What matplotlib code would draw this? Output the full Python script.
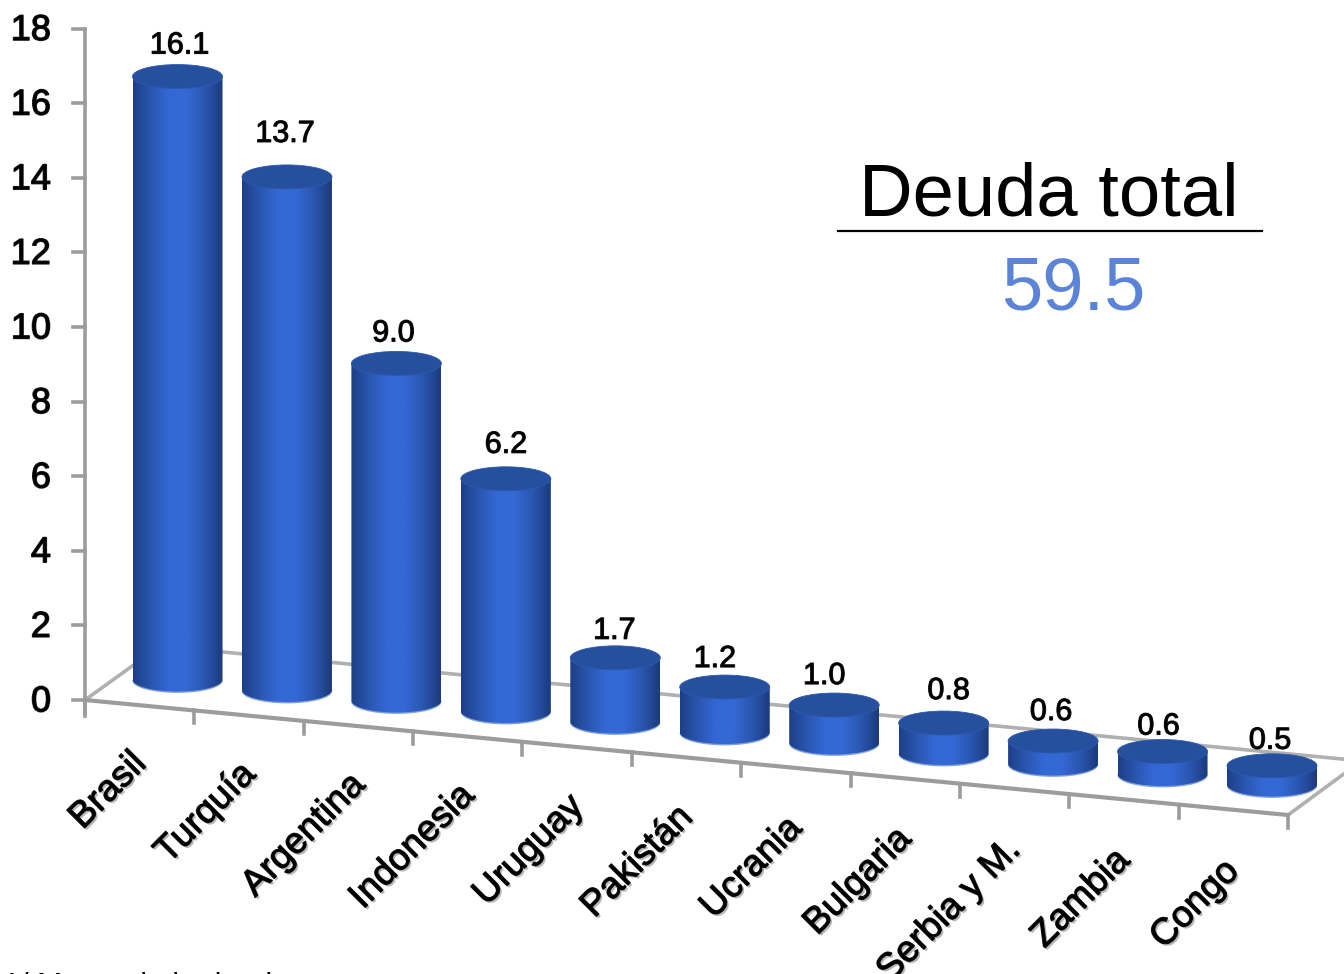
import numpy as np
import matplotlib
matplotlib.use("Agg")
import matplotlib.pyplot as plt
import matplotlib.patheffects as pe
from matplotlib.colors import LinearSegmentedColormap
from matplotlib.patches import Ellipse, PathPatch
from matplotlib.path import Path

paises = ["Brasil", "Turquía", "Argentina", "Indonesia", "Uruguay", "Pakistán",
          "Ucrania", "Bulgaria", "Serbia y M.", "Zambia", "Congo"]
deuda = [16.1, 13.7, 9.0, 6.2, 1.7, 1.2, 1.0, 0.8, 0.6, 0.6, 0.5]
y_ticks = [0, 2, 4, 6, 8, 10, 12, 14, 16, 18]

# hand placed value labels (px from the top of each cylinder)
lab_dx = [2, -2, -3, 0, -1, -10, -10, 5, -2, -4, -2]
lab_dy = [-31, -43, -30, -34, -27, -28, -29, -32, -29, -25, -25]

# ---- fake 3d scale, in pixels ----
PX_UNIT = 37.3
BAR_UNIT = 37.45
STEP_X = 109.45
STEP_Y = 10.5
RX, RY = 45, 12


def base_xy(i):
    return 177.5 + STEP_X * i, 679.5 + STEP_Y * i


def front_y(x):
    return 700 + 0.0956 * (x - 85)


def back_y(x):
    return 646 + 0.0956 * (x - 160)


plt.rcParams["font.family"] = ["Liberation Sans", "DejaVu Sans"]
fig = plt.figure(figsize=(13.44, 9.74), dpi=100)
ax = fig.add_axes([0, 0, 1, 1])
ax.set_xlim(0, 1344)
ax.set_ylim(974, 0)
ax.axis("off")

GREY = "#9c9c9c"
LW = 2.6
soft = [pe.withStroke(linewidth=1.0, foreground="#222222")]
soft2 = [pe.withStroke(linewidth=0.8, foreground="#222222")]
shadow = [pe.withSimplePatchShadow(offset=(1.5, -1.5), shadow_rgbFace="#888888", alpha=0.6),
          pe.withStroke(linewidth=0.9, foreground="#222222")]

# ---- floor and axes ----
ax.plot([85, 160, 1360], [700, 646, back_y(1360)], color="#b0b0b0", lw=LW, zorder=1)
ax.plot([1288, 1360], [front_y(1288), front_y(1288) - 53], color="#b0b0b0", lw=LW, zorder=1)
ax.plot([85, 1288], [700, front_y(1288)], color=GREY, lw=LW + 0.4, zorder=2)
ax.plot([85, 85], [29, 716], color=GREY, lw=LW, zorder=2)

for t in y_ticks:
    yy = 700 - t * PX_UNIT
    ax.plot([73, 85], [yy, yy], color=GREY, lw=LW, zorder=2)
    ax.text(51, yy + 2, str(t), ha="right", va="center", fontsize=26, color="black",
            path_effects=soft, zorder=5)

for k in range(len(paises) + 1):
    xx = 85 + 1203 / 11 * k
    yy = front_y(xx)
    ax.plot([xx, xx], [yy, yy + 13], color=GREY, lw=LW, zorder=2)

# ---- cylinders ----
cmap = LinearSegmentedColormap.from_list("cyl", ["#1d3f86", "#2a56b0", "#3468d6",
                                                 "#3468d4", "#2a56b0", "#1c3a7c"])
grad = np.linspace(0, 1, 256).reshape(1, -1)
for i, v in enumerate(deuda):
    cx, cy = base_xy(i)
    top = cy - v * BAR_UNIT
    # body = rectangle + lower half of the base ellipse
    th = np.linspace(0, np.pi, 60)
    verts = [(cx - RX, top), (cx + RX, top)] + \
        [(cx + RX * np.cos(a), cy + RY * np.sin(a)) for a in th] + [(cx - RX, top)]
    body = Path(verts)
    # light rim under the cylinder
    rim = Ellipse((cx, cy + 1.4), 2 * RX, 2 * RY, color="#7f9fe4", lw=0, zorder=3)
    ax.add_patch(rim)
    im = ax.imshow(grad, extent=[cx - RX, cx + RX, cy + RY + 1, top], cmap=cmap,
                   aspect="auto", zorder=3.5, interpolation="bilinear")
    clip = PathPatch(body, transform=ax.transData, fc="none", lw=0)
    ax.add_patch(clip)
    im.set_clip_path(clip)
    ax.add_patch(Ellipse((cx, top), 2 * RX, 2 * RY, fc="#264f9e", ec="#2c5ab0", lw=0.6, zorder=4))
    ax.text(cx + lab_dx[i], top + lab_dy[i], f"{v:.1f}", ha="center", va="center",
            fontsize=22, color="black", path_effects=soft2, zorder=6)
    ax.text(128.5 + 109.25 * i, 746 + 10.8 * i, paises[i], rotation=45, rotation_mode="anchor",
            ha="right", va="top", fontsize=26.5, color="black", path_effects=shadow, zorder=6)

# ---- total box ----
ax.text(1049, 196, "Deuda total", ha="center", va="center", fontsize=53.5, color="black", zorder=6)
ax.plot([838, 1262], [231, 231], color="black", lw=1.6, zorder=6)
ax.text(1073, 290, "59.5", ha="center", va="center", fontsize=53.5, color="#5b84d8", zorder=6)

# cut off footnote at the bottom edge
ax.text(3, 987, "1/ Monto de la deuda", ha="left", va="center", fontsize=22, color="black", zorder=6)

fig.savefig("out.png", dpi=100)
